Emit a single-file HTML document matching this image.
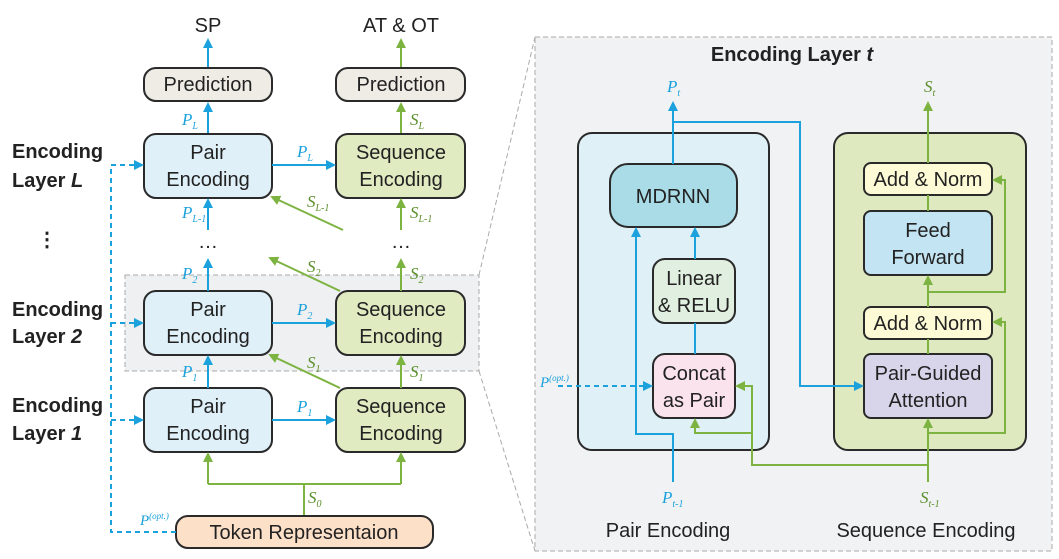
<!DOCTYPE html>
<html><head><meta charset="utf-8"><style>
html,body{margin:0;padding:0;background:#fff;}
svg{display:block;font-family:"Liberation Sans",sans-serif;}
.t{font-size:20px;fill:#222;text-anchor:middle;}
.b{font-size:20px;font-weight:bold;fill:#222;}
.lb{font-family:"Liberation Serif",serif;font-style:italic;font-size:17px;fill:#1ba1dc;}
.lg{font-family:"Liberation Serif",serif;font-style:italic;font-size:17px;fill:#5a8f2a;}
.sub{font-size:10px;}
.bl{stroke:#1ba1dc;stroke-width:2;fill:none;}
.gr{stroke:#7db341;stroke-width:2;fill:none;}
.bx{stroke:#2a2a2a;stroke-width:2;}
</style></head><body>
<svg width="1059" height="559" viewBox="0 0 1059 559" xmlns="http://www.w3.org/2000/svg">
<defs>
<marker id="ab" markerWidth="10" markerHeight="10" refX="8" refY="5" orient="auto" markerUnits="userSpaceOnUse"><path d="M0,0 L10,5 L0,10 z" fill="#1ba1dc"/></marker>
<marker id="ag" markerWidth="10" markerHeight="10" refX="8" refY="5" orient="auto" markerUnits="userSpaceOnUse"><path d="M0,0 L10,5 L0,10 z" fill="#7db341"/></marker>
</defs>
<!-- right panel bg -->
<rect x="535" y="37" width="517" height="514" fill="#f1f2f4" stroke="#aaa" stroke-dasharray="5,3"/>
<line x1="479" y1="275" x2="535" y2="37" stroke="#aaa" stroke-dasharray="5,3"/>
<line x1="479" y1="371" x2="535" y2="551" stroke="#aaa" stroke-dasharray="5,3"/>
<!-- gray layer2 region -->
<rect x="125" y="275" width="354" height="96" fill="#eef0f2" stroke="#aaa" stroke-dasharray="5,3"/>

<!-- left top -->
<text class="t" x="208" y="32">SP</text>
<text class="t" x="401" y="32">AT &amp; OT</text>
<line class="bl" x1="208" y1="68" x2="208" y2="40" marker-end="url(#ab)"/>
<line class="gr" x1="401" y1="68" x2="401" y2="40" marker-end="url(#ag)"/>
<rect class="bx" x="144" y="68" width="128" height="33" rx="12" fill="#efece6"/>
<rect class="bx" x="336" y="68" width="129" height="33" rx="12" fill="#efece6"/>
<text class="t" x="208" y="91">Prediction</text>
<text class="t" x="401" y="91">Prediction</text>

<line class="bl" x1="208" y1="134" x2="208" y2="104" marker-end="url(#ab)"/>
<line class="gr" x1="401" y1="134" x2="401" y2="104" marker-end="url(#ag)"/>
<text class="lb" x="182" y="125">P<tspan class="sub" dy="4">L</tspan></text>
<text class="lg" x="410" y="125">S<tspan class="sub" dy="4">L</tspan></text>

<!-- boxes rows -->
<g>
<rect class="bx" x="144" y="134" width="128" height="64" rx="12" fill="#dff0f8"/>
<rect class="bx" x="336" y="134" width="129" height="64" rx="12" fill="#e0ebc2"/>
<text class="t" x="208" y="159">Pair</text><text class="t" x="208" y="186">Encoding</text>
<text class="t" x="401" y="159">Sequence</text><text class="t" x="401" y="186">Encoding</text>
<rect class="bx" x="144" y="291" width="128" height="64" rx="12" fill="#dff0f8"/>
<rect class="bx" x="336" y="291" width="129" height="64" rx="12" fill="#e0ebc2"/>
<text class="t" x="208" y="316">Pair</text><text class="t" x="208" y="343">Encoding</text>
<text class="t" x="401" y="316">Sequence</text><text class="t" x="401" y="343">Encoding</text>
<rect class="bx" x="144" y="388" width="128" height="64" rx="12" fill="#dff0f8"/>
<rect class="bx" x="336" y="388" width="129" height="64" rx="12" fill="#e0ebc2"/>
<text class="t" x="208" y="413">Pair</text><text class="t" x="208" y="440">Encoding</text>
<text class="t" x="401" y="413">Sequence</text><text class="t" x="401" y="440">Encoding</text>
</g>
<!-- horizontal P arrows -->
<line class="bl" x1="272" y1="165" x2="334" y2="165" marker-end="url(#ab)"/>
<line class="bl" x1="272" y1="323" x2="334" y2="323" marker-end="url(#ab)"/>
<line class="bl" x1="272" y1="420" x2="334" y2="420" marker-end="url(#ab)"/>
<text class="lb" x="297" y="157">P<tspan class="sub" dy="4">L</tspan></text>
<text class="lb" x="297" y="315">P<tspan class="sub" dy="4">2</tspan></text>
<text class="lb" x="297" y="412">P<tspan class="sub" dy="4">1</tspan></text>

<!-- dots -->
<text class="t" x="208" y="248">…</text>
<text class="t" x="401" y="248">…</text>
<text class="b" x="37" y="246" style="font-size:20px">⋮</text>

<!-- vertical arrows -->
<line class="bl" x1="208" y1="230" x2="208" y2="200" marker-end="url(#ab)"/>
<line class="gr" x1="401" y1="230" x2="401" y2="200" marker-end="url(#ag)"/>
<text class="lb" x="182" y="218">P<tspan class="sub" dy="4">L-1</tspan></text>
<text class="lg" x="410" y="218">S<tspan class="sub" dy="4">L-1</tspan></text>
<line class="bl" x1="208" y1="291" x2="208" y2="260" marker-end="url(#ab)"/>
<line class="gr" x1="401" y1="291" x2="401" y2="260" marker-end="url(#ag)"/>
<text class="lb" x="182" y="279">P<tspan class="sub" dy="4">2</tspan></text>
<text class="lg" x="410" y="279">S<tspan class="sub" dy="4">2</tspan></text>
<line class="bl" x1="208" y1="388" x2="208" y2="357" marker-end="url(#ab)"/>
<line class="gr" x1="401" y1="388" x2="401" y2="357" marker-end="url(#ag)"/>
<text class="lb" x="182" y="377">P<tspan class="sub" dy="4">1</tspan></text>
<text class="lg" x="410" y="377">S<tspan class="sub" dy="4">1</tspan></text>

<!-- diagonals -->
<line class="gr" x1="343" y1="230" x2="272" y2="197" marker-end="url(#ag)"/>
<text class="lg" x="307" y="207">S<tspan class="sub" dy="4">L-1</tspan></text>
<line class="gr" x1="340" y1="291" x2="270" y2="258" marker-end="url(#ag)"/>
<text class="lg" x="307" y="272">S<tspan class="sub" dy="4">2</tspan></text>
<line class="gr" x1="340" y1="388" x2="270" y2="355" marker-end="url(#ag)"/>
<text class="lg" x="307" y="368">S<tspan class="sub" dy="4">1</tspan></text>

<!-- S0 -->
<polyline class="gr" points="304,516 304,484"/>
<line class="gr" x1="208" y1="484" x2="401" y2="484"/>
<line class="gr" x1="208" y1="484" x2="208" y2="454" marker-end="url(#ag)"/>
<line class="gr" x1="401" y1="484" x2="401" y2="454" marker-end="url(#ag)"/>
<text class="lg" x="308" y="503">S<tspan class="sub" dy="4">0</tspan></text>
<rect class="bx" x="176" y="516" width="257" height="32" rx="12" fill="#fde0c8"/>
<text class="t" x="304" y="539">Token Representaion</text>

<!-- dashed blue left -->
<polyline points="176,532 111,532 111,165 142,165" fill="none" stroke="#1ba1dc" stroke-width="2" stroke-dasharray="5,4" marker-end="url(#ab)"/>
<line x1="111" y1="323" x2="142" y2="323" stroke="#1ba1dc" stroke-width="2" stroke-dasharray="5,4" marker-end="url(#ab)"/>
<line x1="111" y1="420" x2="142" y2="420" stroke="#1ba1dc" stroke-width="2" stroke-dasharray="5,4" marker-end="url(#ab)"/>
<text class="lb" x="140" y="525" style="font-size:15px">P<tspan style="font-size:9px" dy="-6">(opt.)</tspan></text>

<text class="b" x="12" y="158">Encoding</text>
<text class="b" x="12" y="187">Layer <tspan font-style="italic">L</tspan></text>
<text class="b" x="12" y="316">Encoding</text>
<text class="b" x="12" y="343">Layer <tspan font-style="italic">2</tspan></text>
<text class="b" x="12" y="412">Encoding</text>
<text class="b" x="12" y="440">Layer <tspan font-style="italic">1</tspan></text>

<!-- right panel -->
<text class="b" x="792" y="61" text-anchor="middle">Encoding Layer <tspan font-style="italic">t</tspan></text>
<rect class="bx" x="578" y="133" width="191" height="317" rx="14" fill="#dff0f6"/>
<rect class="bx" x="834" y="133" width="192" height="317" rx="14" fill="#dfe9c0"/>

<rect class="bx" x="610" y="164" width="127" height="63" rx="18" fill="#a9dce6"/>
<text class="t" x="673" y="203">MDRNN</text>
<rect class="bx" x="653" y="259" width="82" height="64" rx="12" fill="#e0efe0"/>
<text class="t" x="694" y="285">Linear</text><text class="t" x="694" y="312">&amp; RELU</text>
<rect class="bx" x="653" y="354" width="82" height="64" rx="12" fill="#fbe3ee"/>
<text class="t" x="694" y="380">Concat</text><text class="t" x="694" y="407">as Pair</text>

<rect class="bx" x="864" y="163" width="128" height="32" rx="7" fill="#fdfbd6"/>
<text class="t" x="928" y="186">Add &amp; Norm</text>
<rect class="bx" x="864" y="211" width="128" height="64" rx="7" fill="#c3e4f2"/>
<text class="t" x="928" y="237">Feed</text><text class="t" x="928" y="264">Forward</text>
<rect class="bx" x="864" y="307" width="128" height="32" rx="7" fill="#fdfbd6"/>
<text class="t" x="928" y="330">Add &amp; Norm</text>
<rect class="bx" x="864" y="354" width="128" height="64" rx="7" fill="#d8d5ea"/>
<text class="t" x="928" y="380">Pair-Guided</text><text class="t" x="928" y="407">Attention</text>

<!-- blue right -->
<line class="bl" x1="673" y1="164" x2="673" y2="103" marker-end="url(#ab)"/>
<text class="lb" x="667" y="92">P<tspan class="sub" dy="4">t</tspan></text>
<polyline class="bl" points="673,122 800,122 800,386 862,386" marker-end="url(#ab)"/>
<polyline class="bl" points="673,482 673,434 636,434 636,229" marker-end="url(#ab)"/>
<line class="bl" x1="695" y1="259" x2="695" y2="229" marker-end="url(#ab)"/>
<line class="bl" x1="695" y1="354" x2="695" y2="323"/>
<text class="lb" x="662" y="503">P<tspan class="sub" dy="4">t-1</tspan></text>
<line x1="558" y1="386" x2="651" y2="386" stroke="#1ba1dc" stroke-width="2" stroke-dasharray="5,4" marker-end="url(#ab)"/>
<text class="lb" x="540" y="387" style="font-size:15px">P<tspan style="font-size:9px" dy="-6">(opt.)</tspan></text>

<!-- green right -->
<line class="gr" x1="928" y1="163" x2="928" y2="103" marker-end="url(#ag)"/>
<text class="lg" x="924" y="92">S<tspan class="sub" dy="4">t</tspan></text>
<line class="gr" x1="928" y1="211" x2="928" y2="195"/>
<line class="gr" x1="928" y1="307" x2="928" y2="277" marker-end="url(#ag)"/>
<line class="gr" x1="928" y1="354" x2="928" y2="339"/>
<line class="gr" x1="928" y1="482" x2="928" y2="420" marker-end="url(#ag)"/>
<polyline class="gr" points="928,292 1005,292 1005,180 994,180" marker-end="url(#ag)"/>
<polyline class="gr" points="928,433 1005,433 1005,322 994,322" marker-end="url(#ag)"/>
<polyline class="gr" points="928,465 752,465 752,386 737,386" marker-end="url(#ag)"/>
<polyline class="gr" points="752,433 695,433 695,420" marker-end="url(#ag)"/>
<text class="lg" x="920" y="503">S<tspan class="sub" dy="4">t-1</tspan></text>

<text class="t" x="668" y="537">Pair Encoding</text>
<text class="t" x="926" y="537">Sequence Encoding</text>
</svg>
</body></html>
